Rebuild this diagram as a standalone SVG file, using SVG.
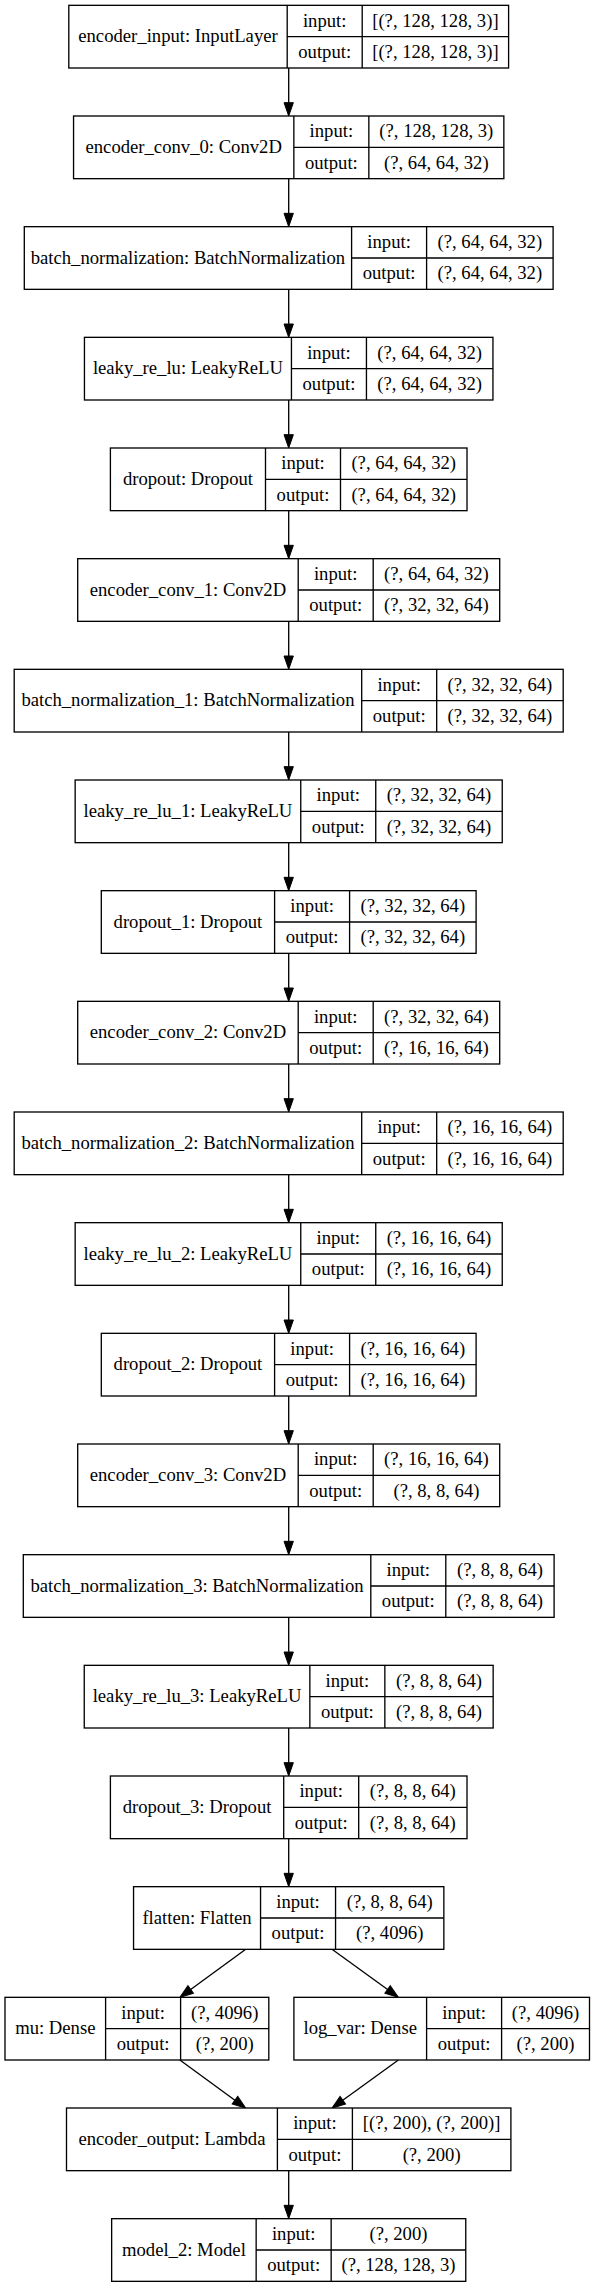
<svg xmlns="http://www.w3.org/2000/svg" width="594" height="2287" viewBox="0 0 594 2287">
<style>
rect{fill:#fff;stroke:#000;stroke-width:1.33}
.node path{fill:none;stroke:#000;stroke-width:1.33}
text{font-family:"Liberation Serif","Times New Roman",serif;font-size:18.67px;fill:#000;text-anchor:middle}
#edges line{stroke:#000;stroke-width:1.33;marker-end:url(#ah)}
</style>
<defs>
<marker id="ah" markerUnits="userSpaceOnUse" markerWidth="14" markerHeight="10" refX="0" refY="4.67" orient="auto" overflow="visible"><path d="M0,0 L13.33,4.67 L0,9.33 z" fill="#000" stroke="#000" stroke-width="1"/></marker>
</defs>
<rect x="0" y="0" width="594" height="2287" style="stroke:none"/>
<g id="edges">
<line x1="288.7" y1="68" x2="288.7" y2="102.67"/>
<line x1="288.7" y1="178.67" x2="288.7" y2="213.33"/>
<line x1="288.7" y1="289.33" x2="288.7" y2="324"/>
<line x1="288.7" y1="400" x2="288.7" y2="434.67"/>
<line x1="288.7" y1="510.67" x2="288.7" y2="545.33"/>
<line x1="288.7" y1="621.33" x2="288.7" y2="656"/>
<line x1="288.7" y1="732" x2="288.7" y2="766.67"/>
<line x1="288.7" y1="842.67" x2="288.7" y2="877.33"/>
<line x1="288.7" y1="953.33" x2="288.7" y2="988"/>
<line x1="288.7" y1="1064" x2="288.7" y2="1098.67"/>
<line x1="288.7" y1="1174.67" x2="288.7" y2="1209.33"/>
<line x1="288.7" y1="1285.33" x2="288.7" y2="1320"/>
<line x1="288.7" y1="1396" x2="288.7" y2="1430.67"/>
<line x1="288.7" y1="1506.67" x2="288.7" y2="1541.33"/>
<line x1="288.7" y1="1617.33" x2="288.7" y2="1652"/>
<line x1="288.7" y1="1728" x2="288.7" y2="1762.67"/>
<line x1="288.7" y1="1838.67" x2="288.7" y2="1873.33"/>
<line x1="245.73" y1="1949.33" x2="190.67" y2="1989.5"/>
<line x1="332.01" y1="1949.33" x2="387.59" y2="1989.52"/>
<line x1="179.87" y1="2060" x2="234.93" y2="2100.17"/>
<line x1="398.39" y1="2060" x2="342.81" y2="2100.19"/>
<line x1="288.7" y1="2170.67" x2="288.7" y2="2205.33"/>
</g>
<g id="encoder_input" class="node">
<rect x="68.8" y="5.33" width="439.8" height="62.67"/>
<path d="M287.2,5.33V68M362.2,5.33V68M287.2,36.67H508.6"/>
<text x="178" y="42.23">encoder_input: InputLayer</text>
<text x="324.7" y="26.63">input:</text><text x="324.7" y="57.93">output:</text>
<text x="435.4" y="26.63">[(?, 128, 128, 3)]</text><text x="435.4" y="57.93">[(?, 128, 128, 3)]</text>
</g>
<g id="encoder_conv_0" class="node">
<rect x="73.55" y="116" width="430.3" height="62.67"/>
<path d="M293.85,116V178.67M368.85,116V178.67M293.85,147.33H503.85"/>
<text x="183.7" y="152.9">encoder_conv_0: Conv2D</text>
<text x="331.35" y="137.3">input:</text><text x="331.35" y="168.6">output:</text>
<text x="436.35" y="137.3">(?, 128, 128, 3)</text><text x="436.35" y="168.6">(?, 64, 64, 32)</text>
</g>
<g id="batch_normalization" class="node">
<rect x="24.3" y="226.67" width="528.8" height="62.67"/>
<path d="M351.6,226.67V289.33M426.6,226.67V289.33M351.6,258H553.1"/>
<text x="187.95" y="263.57">batch_normalization: BatchNormalization</text>
<text x="389.1" y="247.97">input:</text><text x="389.1" y="279.27">output:</text>
<text x="489.85" y="247.97">(?, 64, 64, 32)</text><text x="489.85" y="279.27">(?, 64, 64, 32)</text>
</g>
<g id="leaky_re_lu" class="node">
<rect x="84.45" y="337.33" width="408.5" height="62.67"/>
<path d="M291.45,337.33V400M366.45,337.33V400M291.45,368.67H492.95"/>
<text x="187.95" y="374.23">leaky_re_lu: LeakyReLU</text>
<text x="328.95" y="358.63">input:</text><text x="328.95" y="389.93">output:</text>
<text x="429.7" y="358.63">(?, 64, 64, 32)</text><text x="429.7" y="389.93">(?, 64, 64, 32)</text>
</g>
<g id="dropout" class="node">
<rect x="110.4" y="448" width="356.6" height="62.67"/>
<path d="M265.5,448V510.67M340.5,448V510.67M265.5,479.33H467"/>
<text x="187.95" y="484.9">dropout: Dropout</text>
<text x="303" y="469.3">input:</text><text x="303" y="500.6">output:</text>
<text x="403.75" y="469.3">(?, 64, 64, 32)</text><text x="403.75" y="500.6">(?, 64, 64, 32)</text>
</g>
<g id="encoder_conv_1" class="node">
<rect x="77.7" y="558.67" width="422" height="62.67"/>
<path d="M298.2,558.67V621.33M373.2,558.67V621.33M298.2,590H499.7"/>
<text x="187.95" y="595.57">encoder_conv_1: Conv2D</text>
<text x="335.7" y="579.97">input:</text><text x="335.7" y="611.27">output:</text>
<text x="436.45" y="579.97">(?, 64, 64, 32)</text><text x="436.45" y="611.27">(?, 32, 32, 64)</text>
</g>
<g id="batch_normalization_1" class="node">
<rect x="14.2" y="669.33" width="549" height="62.67"/>
<path d="M361.7,669.33V732M436.7,669.33V732M361.7,700.67H563.2"/>
<text x="187.95" y="706.23">batch_normalization_1: BatchNormalization</text>
<text x="399.2" y="690.63">input:</text><text x="399.2" y="721.93">output:</text>
<text x="499.95" y="690.63">(?, 32, 32, 64)</text><text x="499.95" y="721.93">(?, 32, 32, 64)</text>
</g>
<g id="leaky_re_lu_1" class="node">
<rect x="75.15" y="780" width="427.1" height="62.67"/>
<path d="M300.75,780V842.67M375.75,780V842.67M300.75,811.33H502.25"/>
<text x="187.95" y="816.9">leaky_re_lu_1: LeakyReLU</text>
<text x="338.25" y="801.3">input:</text><text x="338.25" y="832.6">output:</text>
<text x="439" y="801.3">(?, 32, 32, 64)</text><text x="439" y="832.6">(?, 32, 32, 64)</text>
</g>
<g id="dropout_1" class="node">
<rect x="101.3" y="890.67" width="374.8" height="62.67"/>
<path d="M274.6,890.67V953.33M349.6,890.67V953.33M274.6,922H476.1"/>
<text x="187.95" y="927.57">dropout_1: Dropout</text>
<text x="312.1" y="911.97">input:</text><text x="312.1" y="943.27">output:</text>
<text x="412.85" y="911.97">(?, 32, 32, 64)</text><text x="412.85" y="943.27">(?, 32, 32, 64)</text>
</g>
<g id="encoder_conv_2" class="node">
<rect x="77.7" y="1001.33" width="422" height="62.67"/>
<path d="M298.2,1001.33V1064M373.2,1001.33V1064M298.2,1032.67H499.7"/>
<text x="187.95" y="1038.23">encoder_conv_2: Conv2D</text>
<text x="335.7" y="1022.63">input:</text><text x="335.7" y="1053.93">output:</text>
<text x="436.45" y="1022.63">(?, 32, 32, 64)</text><text x="436.45" y="1053.93">(?, 16, 16, 64)</text>
</g>
<g id="batch_normalization_2" class="node">
<rect x="14.2" y="1112" width="549" height="62.67"/>
<path d="M361.7,1112V1174.67M436.7,1112V1174.67M361.7,1143.33H563.2"/>
<text x="187.95" y="1148.9">batch_normalization_2: BatchNormalization</text>
<text x="399.2" y="1133.3">input:</text><text x="399.2" y="1164.6">output:</text>
<text x="499.95" y="1133.3">(?, 16, 16, 64)</text><text x="499.95" y="1164.6">(?, 16, 16, 64)</text>
</g>
<g id="leaky_re_lu_2" class="node">
<rect x="75.15" y="1222.67" width="427.1" height="62.67"/>
<path d="M300.75,1222.67V1285.33M375.75,1222.67V1285.33M300.75,1254H502.25"/>
<text x="187.95" y="1259.57">leaky_re_lu_2: LeakyReLU</text>
<text x="338.25" y="1243.97">input:</text><text x="338.25" y="1275.27">output:</text>
<text x="439" y="1243.97">(?, 16, 16, 64)</text><text x="439" y="1275.27">(?, 16, 16, 64)</text>
</g>
<g id="dropout_2" class="node">
<rect x="101.3" y="1333.33" width="374.8" height="62.67"/>
<path d="M274.6,1333.33V1396M349.6,1333.33V1396M274.6,1364.67H476.1"/>
<text x="187.95" y="1370.23">dropout_2: Dropout</text>
<text x="312.1" y="1354.63">input:</text><text x="312.1" y="1385.93">output:</text>
<text x="412.85" y="1354.63">(?, 16, 16, 64)</text><text x="412.85" y="1385.93">(?, 16, 16, 64)</text>
</g>
<g id="encoder_conv_3" class="node">
<rect x="77.7" y="1444" width="422" height="62.67"/>
<path d="M298.2,1444V1506.67M373.2,1444V1506.67M298.2,1475.33H499.7"/>
<text x="187.95" y="1480.9">encoder_conv_3: Conv2D</text>
<text x="335.7" y="1465.3">input:</text><text x="335.7" y="1496.6">output:</text>
<text x="436.45" y="1465.3">(?, 16, 16, 64)</text><text x="436.45" y="1496.6">(?, 8, 8, 64)</text>
</g>
<g id="batch_normalization_3" class="node">
<rect x="23.3" y="1554.67" width="530.8" height="62.67"/>
<path d="M370.8,1554.67V1617.33M445.8,1554.67V1617.33M370.8,1586H554.1"/>
<text x="197.05" y="1591.57">batch_normalization_3: BatchNormalization</text>
<text x="408.3" y="1575.97">input:</text><text x="408.3" y="1607.27">output:</text>
<text x="499.95" y="1575.97">(?, 8, 8, 64)</text><text x="499.95" y="1607.27">(?, 8, 8, 64)</text>
</g>
<g id="leaky_re_lu_3" class="node">
<rect x="84.25" y="1665.33" width="408.9" height="62.67"/>
<path d="M309.85,1665.33V1728M384.85,1665.33V1728M309.85,1696.67H493.15"/>
<text x="197.05" y="1702.23">leaky_re_lu_3: LeakyReLU</text>
<text x="347.35" y="1686.63">input:</text><text x="347.35" y="1717.93">output:</text>
<text x="439" y="1686.63">(?, 8, 8, 64)</text><text x="439" y="1717.93">(?, 8, 8, 64)</text>
</g>
<g id="dropout_3" class="node">
<rect x="110.4" y="1776" width="356.6" height="62.67"/>
<path d="M283.7,1776V1838.67M358.7,1776V1838.67M283.7,1807.33H467"/>
<text x="197.05" y="1812.9">dropout_3: Dropout</text>
<text x="321.2" y="1797.3">input:</text><text x="321.2" y="1828.6">output:</text>
<text x="412.85" y="1797.3">(?, 8, 8, 64)</text><text x="412.85" y="1828.6">(?, 8, 8, 64)</text>
</g>
<g id="flatten" class="node">
<rect x="133.55" y="1886.67" width="310.3" height="62.67"/>
<path d="M260.55,1886.67V1949.33M335.55,1886.67V1949.33M260.55,1918H443.85"/>
<text x="197.05" y="1923.57">flatten: Flatten</text>
<text x="298.05" y="1907.97">input:</text><text x="298.05" y="1939.27">output:</text>
<text x="389.7" y="1907.97">(?, 8, 8, 64)</text><text x="389.7" y="1939.27">(?, 4096)</text>
</g>
<g id="mu" class="node">
<rect x="5" y="1997.33" width="263.8" height="62.67"/>
<path d="M105.6,1997.33V2060M180.6,1997.33V2060M105.6,2028.67H268.8"/>
<text x="55.3" y="2034.23">mu: Dense</text>
<text x="143.1" y="2018.63">input:</text><text x="143.1" y="2049.93">output:</text>
<text x="224.7" y="2018.63">(?, 4096)</text><text x="224.7" y="2049.93">(?, 200)</text>
</g>
<g id="log_var" class="node">
<rect x="293.9" y="1997.33" width="295.6" height="62.67"/>
<path d="M426.6,1997.33V2060M501.6,1997.33V2060M426.6,2028.67H589.5"/>
<text x="360.25" y="2034.23">log_var: Dense</text>
<text x="464.1" y="2018.63">input:</text><text x="464.1" y="2049.93">output:</text>
<text x="545.55" y="2018.63">(?, 4096)</text><text x="545.55" y="2049.93">(?, 200)</text>
</g>
<g id="encoder_output" class="node">
<rect x="66.5" y="2108" width="444.4" height="62.67"/>
<path d="M277.4,2108V2170.67M352.4,2108V2170.67M277.4,2139.33H510.9"/>
<text x="171.95" y="2144.9">encoder_output: Lambda</text>
<text x="314.9" y="2129.3">input:</text><text x="314.9" y="2160.6">output:</text>
<text x="431.65" y="2129.3">[(?, 200), (?, 200)]</text><text x="431.65" y="2160.6">(?, 200)</text>
</g>
<g id="model_2" class="node">
<rect x="111.65" y="2218.67" width="354.1" height="62.67"/>
<path d="M256.15,2218.67V2281.33M331.15,2218.67V2281.33M256.15,2250H465.75"/>
<text x="183.9" y="2255.57">model_2: Model</text>
<text x="293.65" y="2239.97">input:</text><text x="293.65" y="2271.27">output:</text>
<text x="398.45" y="2239.97">(?, 200)</text><text x="398.45" y="2271.27">(?, 128, 128, 3)</text>
</g>
</svg>
